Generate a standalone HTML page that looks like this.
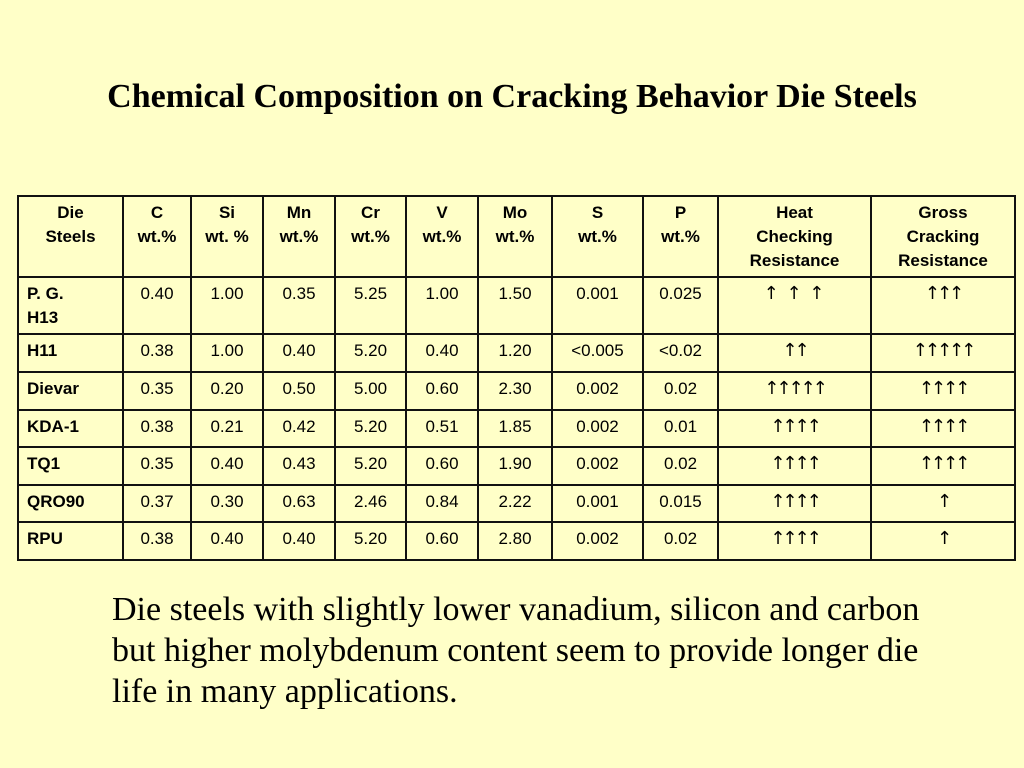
<!DOCTYPE html>
<html><head><meta charset="utf-8"><style>
body{margin:0;width:1024px;height:768px;background:#FFFFC8;position:relative;overflow:hidden;font-family:"Liberation Sans",sans-serif}
h1{position:absolute;top:78px;left:0;width:1024px;text-align:center;margin:0;font:bold 34px "Liberation Serif",serif;color:#000;white-space:nowrap}
table{position:absolute;left:17px;top:195px;border-collapse:collapse;table-layout:fixed;width:997px}
td{border:2px solid #111;font-size:17px;text-align:center;vertical-align:top;padding:4px 3px 0 3px;line-height:24px;overflow:hidden}
td.n{text-align:left;font-weight:bold;padding-left:8px}
td.a{font-family:"DejaVu Sans",sans-serif;font-size:18px;letter-spacing:-3px}
tr.h td{font-weight:bold;height:75px}
p{position:absolute;left:112px;top:589px;margin:0;width:840px;font:34px/41px "Liberation Serif",serif}
</style></head><body>
<h1>Chemical Composition on Cracking Behavior Die Steels</h1>
<table>
<colgroup><col style="width:105px"><col style="width:68px"><col style="width:72px"><col style="width:72px"><col style="width:71px"><col style="width:72px"><col style="width:74px"><col style="width:91px"><col style="width:75px"><col style="width:153px"><col style="width:144px"></colgroup>
<tr class="h"><td>Die<br>Steels</td><td>C<br>wt.%</td><td>Si<br>wt. %</td><td>Mn<br>wt.%</td><td>Cr<br>wt.%</td><td>V<br>wt.%</td><td>Mo<br>wt.%</td><td>S<br>wt.%</td><td>P<br>wt.%</td><td>Heat<br>Checking<br>Resistance</td><td>Gross<br>Cracking<br>Resistance</td></tr>
<tr style="height:57px"><td class="n">P. G.<br>H13</td><td>0.40</td><td>1.00</td><td>0.35</td><td>5.25</td><td>1.00</td><td>1.50</td><td>0.001</td><td>0.025</td><td class="a" style="letter-spacing:1px">↑ ↑ ↑</td><td class="a">↑↑↑</td></tr>
<tr style="height:38px"><td class="n">H11</td><td>0.38</td><td>1.00</td><td>0.40</td><td>5.20</td><td>0.40</td><td>1.20</td><td>&lt;0.005</td><td>&lt;0.02</td><td class="a">↑↑</td><td class="a">↑↑↑↑↑</td></tr>
<tr style="height:38px"><td class="n">Dievar</td><td>0.35</td><td>0.20</td><td>0.50</td><td>5.00</td><td>0.60</td><td>2.30</td><td>0.002</td><td>0.02</td><td class="a">↑↑↑↑↑</td><td class="a">↑↑↑↑</td></tr>
<tr style="height:37px"><td class="n">KDA-1</td><td>0.38</td><td>0.21</td><td>0.42</td><td>5.20</td><td>0.51</td><td>1.85</td><td>0.002</td><td>0.01</td><td class="a">↑↑↑↑</td><td class="a">↑↑↑↑</td></tr>
<tr style="height:38px"><td class="n">TQ1</td><td>0.35</td><td>0.40</td><td>0.43</td><td>5.20</td><td>0.60</td><td>1.90</td><td>0.002</td><td>0.02</td><td class="a">↑↑↑↑</td><td class="a">↑↑↑↑</td></tr>
<tr style="height:37px"><td class="n">QRO90</td><td>0.37</td><td>0.30</td><td>0.63</td><td>2.46</td><td>0.84</td><td>2.22</td><td>0.001</td><td>0.015</td><td class="a">↑↑↑↑</td><td class="a">↑</td></tr>
<tr style="height:38px"><td class="n">RPU</td><td>0.38</td><td>0.40</td><td>0.40</td><td>5.20</td><td>0.60</td><td>2.80</td><td>0.002</td><td>0.02</td><td class="a">↑↑↑↑</td><td class="a">↑</td></tr>
</table>
<p>Die steels with slightly lower vanadium, silicon and carbon but higher molybdenum content seem to provide longer die life in many applications.</p>
</body></html>
